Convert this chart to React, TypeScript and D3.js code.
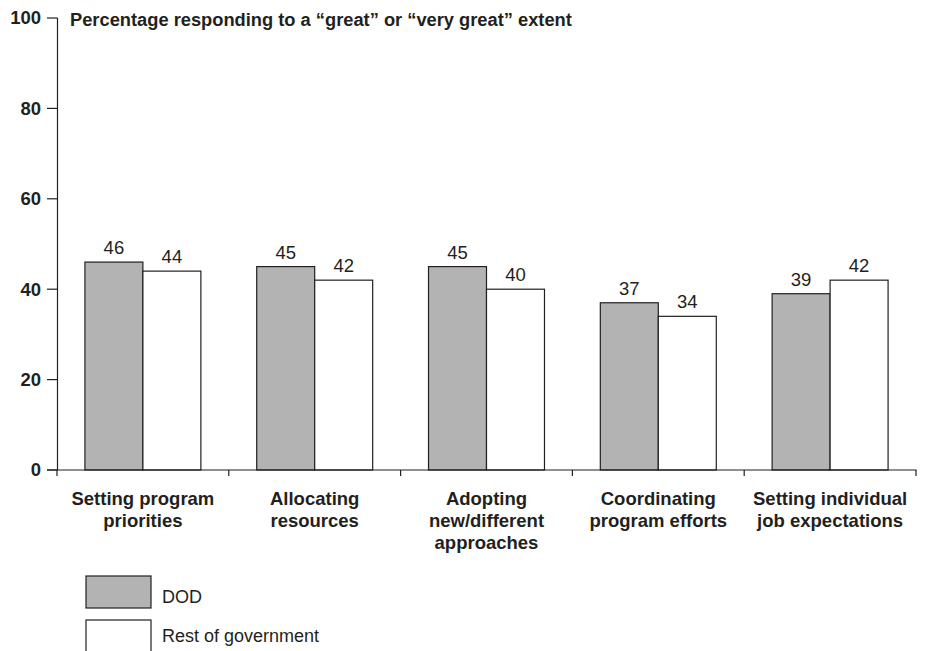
import React from "react";
import * as d3 from "d3";

const categories: string[][] = [
  ["Setting program", "priorities"],
  ["Allocating", "resources"],
  ["Adopting", "new/different", "approaches"],
  ["Coordinating", "program efforts"],
  ["Setting individual", "job expectations"],
];
const seriesNames = ["DOD", "Rest of government"];
const dodValues = [46, 45, 45, 37, 39];
const restValues = [44, 42, 40, 34, 42];
const yTicks = [0, 20, 40, 60, 80, 100];
const title = "Percentage responding to a \u201cgreat\u201d or \u201cvery great\u201d extent";

const W = 925;
const H = 651;
const FONT = "'Liberation Sans', Arial, Helvetica, sans-serif";
const TXT = "#231f20";
const fills = ["#b3b3b3", "#ffffff"];

export default function App() {
  const keys = categories.map((c) => c.join(" "));
  const y = d3.scaleLinear().domain([0, 100]).range([470, 18]);
  const x0 = d3
    .scaleBand<string>()
    .domain(keys)
    .range([57, 916])
    .paddingInner(0.325)
    .paddingOuter(0.1625);
  const x1 = d3
    .scaleBand<string>()
    .domain(seriesNames)
    .range([0, x0.bandwidth()])
    .padding(0);
  const step = x0.step();
  const gap = (step * 0.325) / 2;
  const boundaries = [x0(keys[0])! - gap, ...keys.map((k) => x0(k)! + x0.bandwidth() + gap)];
  const series = [dodValues, restValues];

  return (
    <svg
      width={W}
      height={H}
      style={{ position: "absolute", left: 0, top: 0, background: "#fff" }}
      fontFamily={FONT}
    >
      <rect x={0} y={0} width={W} height={H} fill="#fff" />
      {/* title */}
      <text x={70} y={25.5} fontSize={18.3} fontWeight="bold" fill={TXT}>
        {title}
      </text>
      {/* y axis */}
      <line x1={57.5} x2={57.5} y1={y(100)} y2={y(0)} stroke={TXT} strokeWidth={1.2} />
      {yTicks.map((t) => (
        <g key={t}>
          <line x1={47} x2={57.5} y1={y(t)} y2={y(t)} stroke={TXT} strokeWidth={1.2} />
          <text
            x={41}
            y={y(t)}
            dy="0.35em"
            textAnchor="end"
            fontSize={18.5}
            fontWeight="bold"
            fill={TXT}
          >
            {t}
          </text>
        </g>
      ))}
      {/* bars */}
      {keys.map((k, i) => (
        <g key={k} transform={`translate(${x0(k)},0)`}>
          {seriesNames.map((s, j) => {
            const v = series[j][i];
            return (
              <g key={s}>
                <rect
                  x={x1(s)}
                  y={y(v)}
                  width={x1.bandwidth()}
                  height={y(0) - y(v)}
                  fill={fills[j]}
                  stroke={TXT}
                  strokeWidth={1.2}
                />
                <text
                  x={x1(s)! + x1.bandwidth() / 2}
                  y={y(v) - 8}
                  textAnchor="middle"
                  fontSize={18.5}
                  fill={TXT}
                >
                  {v}
                </text>
              </g>
            );
          })}
        </g>
      ))}
      {/* x axis */}
      <line x1={47} x2={916.5} y1={y(0)} y2={y(0)} stroke={TXT} strokeWidth={1.2} />
      {boundaries.map((b, i) => (
        <line key={i} x1={b} x2={b} y1={y(0)} y2={y(0) + 6} stroke={TXT} strokeWidth={1.2} />
      ))}
      {categories.map((lines, i) => (
        <text
          key={i}
          x={x0(keys[i])! + x0.bandwidth() / 2}
          y={505}
          textAnchor="middle"
          fontSize={18.5}
          fontWeight="bold"
          fill={TXT}
        >
          {lines.map((l, li) => (
            <tspan key={li} x={x0(keys[i])! + x0.bandwidth() / 2} dy={li === 0 ? 0 : 22}>
              {l}
            </tspan>
          ))}
        </text>
      ))}
      {/* legend */}
      {seriesNames.map((s, j) => (
        <g key={s}>
          <rect
            x={86}
            y={576 + j * 44}
            width={65}
            height={32}
            fill={fills[j]}
            stroke={TXT}
            strokeWidth={1.2}
          />
          <text x={162} y={603 + j * 39} fontSize={18} fill={TXT}>
            {s}
          </text>
        </g>
      ))}
    </svg>
  );
}
